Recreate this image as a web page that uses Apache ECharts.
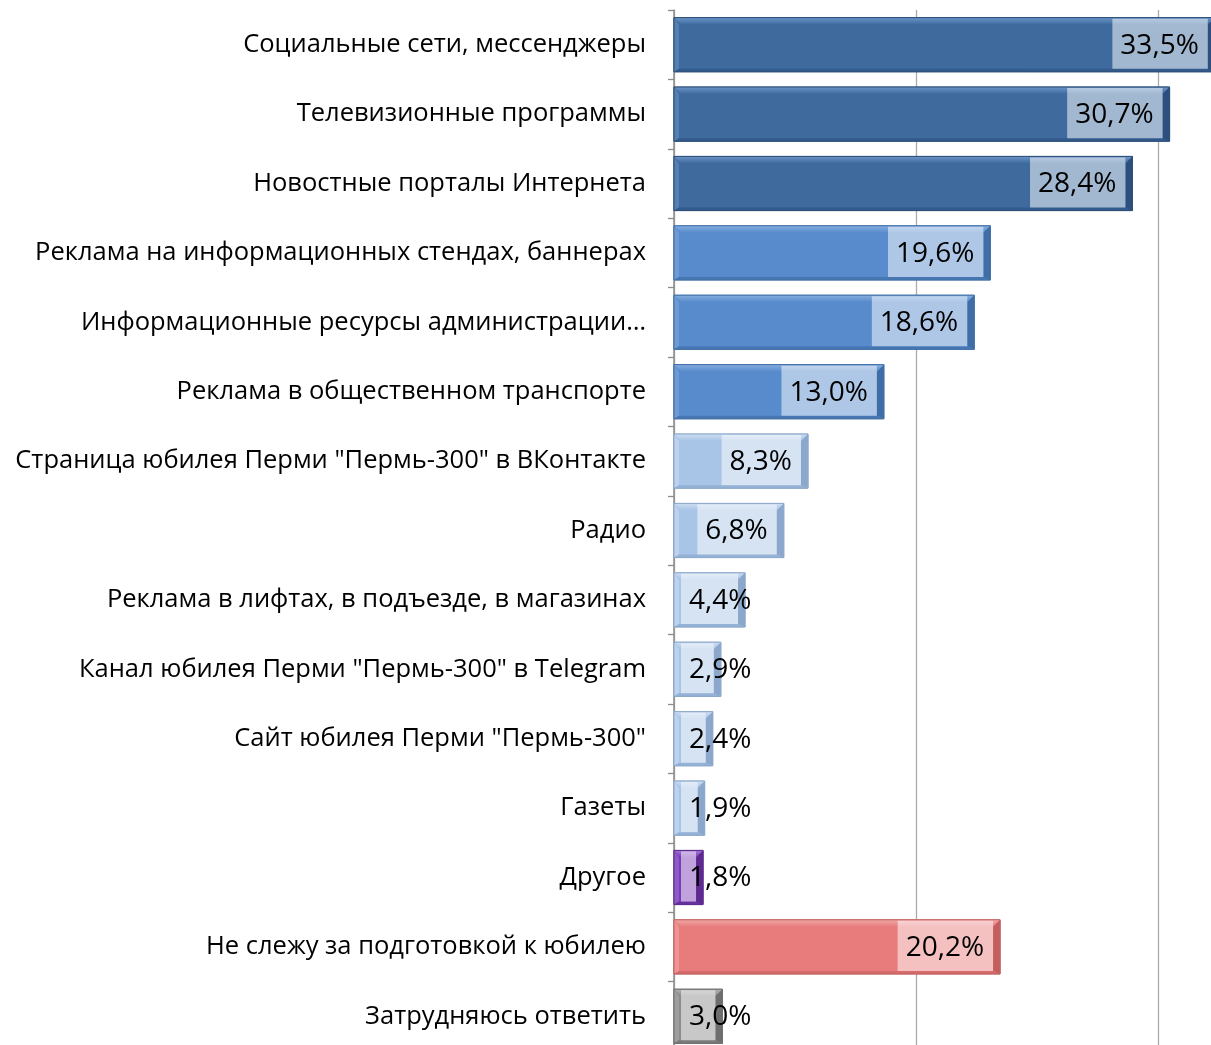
<!DOCTYPE html>
<html><head><meta charset="utf-8">
<script src="https://cdn.jsdelivr.net/npm/echarts@6/dist/echarts.min.js"></script>
<style>html,body{margin:0;padding:0;background:#fff}#c{width:1211px;height:1045px}</style>
</head><body><div id="c"></div>
<script>
var categories = [
  'Социальные сети, мессенджеры',
  'Телевизионные программы',
  'Новостные порталы Интернета',
  'Реклама на информационных стендах, баннерах',
  'Информационные ресурсы администрации…',
  'Реклама в общественном транспорте',
  'Страница юбилея Перми "Пермь-300" в ВКонтакте',
  'Радио',
  'Реклама в лифтах, в подъезде, в магазинах',
  'Канал юбилея Перми "Пермь-300" в Telegram',
  'Сайт юбилея Перми "Пермь-300"',
  'Газеты',
  'Другое',
  'Не слежу за подготовкой к юбилею',
  'Затрудняюсь ответить'
];
var values = [33.5, 30.7, 28.4, 19.6, 18.6, 13.0, 8.3, 6.8, 4.4, 2.9, 2.4, 1.9, 1.8, 20.2, 3.0];
var colorGroup = ['dark','dark','dark','mid','mid','mid','light','light','light','light','light','light','purple','red','gray'];

var palette = {
  dark:   {face:'#3E6A9E', top:'#6C95C8', left:'#5580B4', side:'#2C4F7E', bottom:'#335a8c', edge:'#2E5078'},
  mid:    {face:'#578BCB', top:'#86AEE0', left:'#6E9BD6', side:'#3F6DA6', bottom:'#4677B3', edge:'#4472A8'},
  light:  {face:'#A8C4E6', top:'#CCDDF2', left:'#BCD2EE', side:'#8BA7CB', bottom:'#94B1D6', edge:'#8EA9CC'},
  purple: {face:'#7B3DB7', top:'#A273D3', left:'#9059C8', side:'#5E2A91', bottom:'#65309B', edge:'#5E2D8E'},
  red:    {face:'#E87C7C', top:'#F3A7A7', left:'#EF9393', side:'#C35E5E', bottom:'#D56B6B', edge:'#C46464'},
  gray:   {face:'#8C8C8C', top:'#B0B0B0', left:'#9E9E9E', side:'#6E6E6E', bottom:'#7A7A7A', edge:'#707070'}
};

var valueFont = '28px "Open Sans"';
var mctx = document.createElement('canvas').getContext('2d');
function fmt(v) { return v.toFixed(1).replace('.', ',') + '%'; }
function textW(t) { mctx.font = valueFont; return mctx.measureText(t).width; }

function renderItem(params, api) {
  var v = api.value(0), i = api.value(1);
  var p0 = api.coord([0, i]), p1 = api.coord([v, i]);
  var band = api.size([0, 1])[1];
  var h = band * 0.78;
  var x0 = p0[0], x1 = p1[0], yc = p0[1];
  var yT = yc - h / 2, yB = yc + h / 2;
  var c = palette[colorGroup[i]];
  var d = 7;
  var topGrad = new echarts.graphic.LinearGradient(0, 0, 0, 1, [
    {offset: 0, color: c.top}, {offset: 1, color: c.face}
  ]);
  var children = [
    {type: 'rect', shape: {x: x0, y: yT, width: x1 - x0, height: h}, style: {fill: c.face, stroke: c.edge, lineWidth: 1}},
    {type: 'polygon', shape: {points: [[x0, yT], [x1, yT], [x1 - d, yT + d], [x0 + d, yT + d]]}, style: {fill: topGrad}},
    {type: 'polygon', shape: {points: [[x0, yT], [x0 + 5, yT + d], [x0 + 5, yB - 3], [x0, yB]]}, style: {fill: c.left}},
    {type: 'polygon', shape: {points: [[x0, yB], [x1, yB], [x1 - d, yB - 3], [x0 + 5, yB - 3]]}, style: {fill: c.bottom}},
    {type: 'polygon', shape: {points: [[x1, yT], [x1, yB], [x1 - d, yB - 3], [x1 - d, yT + d]]}, style: {fill: c.side}},
    {type: 'rect', shape: {x: x0, y: yT, width: x1 - x0, height: h}, style: {fill: 'none', stroke: c.edge, lineWidth: 1}}
  ];
  var txt = fmt(v);
  var tw = textW(txt);
  var boxR = x1 - d;
  var boxL = Math.max(x0 + d, boxR - tw - 17);
  if (boxR > boxL) {
    children.push({type: 'rect', shape: {x: boxL, y: yT + 1, width: boxR - boxL, height: h - 4},
      style: {fill: 'rgba(255,255,255,0.52)'}});
  }
  children.push({type: 'text', style: {text: txt, x: boxL + 8, y: yc + 1, align: 'left', verticalAlign: 'middle',
    font: valueFont, fill: '#000'}});
  return {type: 'group', children: children};
}

var chart = echarts.init(document.getElementById('c'), null, {renderer: 'canvas'});
chart.setOption({
  animation: false,
  backgroundColor: '#fff',
  grid: {left: 674, top: 10, width: 565, height: 1041, containLabel: false, outerBoundsMode: 'none'},
  xAxis: {
    type: 'value', min: 0, max: 35, interval: 15,
    axisLabel: {show: false}, axisTick: {show: false}, axisLine: {show: false},
    splitLine: {show: true, lineStyle: {color: '#ABABAB', width: 1.3}}
  },
  yAxis: {
    type: 'category', inverse: true, data: categories,
    axisLine: {show: true, lineStyle: {color: '#8C8C8C', width: 1.5}},
    axisTick: {show: true, length: 6, lineStyle: {color: '#8C8C8C', width: 1.3}},
    axisLabel: {color: '#000', fontSize: 25.5, fontFamily: '"Open Sans"', margin: 28}
  },
  series: [{
    type: 'custom',
    renderItem: renderItem,
    encode: {x: 0, y: 1},
    clip: false,
    data: values.map(function (v, i) { return [v, i]; })
  }]
});
</script>
</body></html>
